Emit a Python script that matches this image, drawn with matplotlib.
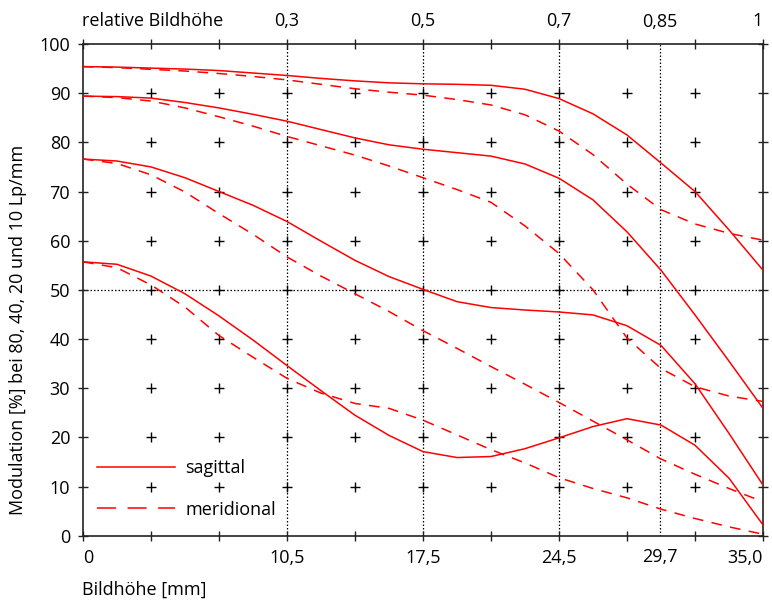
import matplotlib
matplotlib.use("Agg")
import matplotlib.pyplot as plt
from matplotlib.lines import Line2D
import numpy as np

plt.rcParams['font.family'] = ['Open Sans', 'DejaVu Sans']
plt.rcParams['font.size'] = 13

# Bildhöhe [mm]
h = [0, 1.75, 3.5, 5.25, 7, 8.75, 10.5, 12.25, 14, 15.75, 17.5,
     19.25, 21, 22.75, 24.5, 26.25, 28, 29.75, 31.5, 33.25, 35]

# 10 Lp/mm
s10 = [95.4, 95.3, 95.1, 94.9, 94.6, 94.1, 93.6, 93.0, 92.5, 92.1, 91.9,
       91.8, 91.6, 90.8, 88.9, 85.8, 81.5, 75.8, 70.0, 62.2, 54.0]
m10 = [95.4, 95.2, 94.85, 94.5, 94.0, 93.4, 92.7, 91.8, 90.9, 90.2, 89.6,
       88.7, 87.6, 85.6, 82.3, 77.5, 71.5, 66.3, 63.4, 61.5, 60.1]
# 20 Lp/mm
s20 = [89.4, 89.3, 89.0, 88.1, 87.0, 85.7, 84.3, 82.6, 80.9, 79.5, 78.6,
       77.9, 77.2, 75.6, 72.7, 68.3, 61.8, 54.0, 44.9, 35.5, 25.9]
m20 = [89.4, 89.1, 88.4, 87.0, 85.2, 83.3, 81.2, 79.3, 77.4, 75.2, 72.8,
       70.4, 67.8, 63.0, 57.4, 50.0, 40.2, 34.0, 30.3, 28.4, 27.3]
# 40 Lp/mm
s40 = [76.6, 76.2, 75.0, 72.8, 70.0, 67.2, 63.9, 59.9, 56.0, 52.7, 50.1,
       47.6, 46.4, 45.9, 45.5, 44.9, 42.7, 38.7, 30.9, 20.8, 10.3]
m40 = [76.6, 75.7, 73.4, 69.9, 65.5, 61.3, 56.7, 52.8, 49.2, 45.6, 41.7,
       38.1, 34.4, 30.8, 27.1, 23.3, 19.5, 15.6, 12.5, 9.6, 6.9]
# 80 Lp/mm
s80 = [55.7, 55.2, 52.8, 49.2, 44.7, 39.8, 34.6, 29.5, 24.5, 20.4, 17.1,
       15.9, 16.1, 17.7, 19.9, 22.2, 23.8, 22.5, 18.4, 11.7, 2.2]
m80 = [55.7, 54.5, 51.0, 46.5, 40.7, 36.3, 32.0, 29.0, 26.9, 25.9, 23.5,
       20.5, 17.5, 14.8, 11.8, 9.6, 7.7, 5.4, 3.5, 1.8, 0.3]

sag = [s10, s20, s40, s80]
mer = [m10, m20, m40, m80]

grid_x = [3.5, 7, 10.5, 14, 17.5, 21, 24.5, 28, 31.5]
grid_y = [10, 20, 30, 40, 50, 60, 70, 80, 90]
vlines = [10.5, 17.5, 24.5, 29.7]

bottom_ticks = [0, 3.5, 7, 10.5, 14, 17.5, 21, 24.5, 28, 31.5, 35]
bottom_labels = ['0', '', '', '10,5', '', '17,5', '', '24,5', '', '', '35,0']
top_labels = ['', '', '', '0,3', '', '0,5', '', '0,7', '', '', '1']

fig = plt.figure(figsize=(7.72, 6.05), dpi=100)
ax = fig.add_axes([83/772, 1-535.7/605, 680/772, 491.7/605])
ax.set_xlim(0, 35)
ax.set_ylim(0, 100)

# gitter
for v in vlines:
    ax.axvline(v, color='black', lw=0.9, ls=(0, (1.2, 1.6)), zorder=1)
ax.axhline(50, color='black', lw=0.9, ls=(0, (1.2, 1.6)), zorder=1)
gx, gy = np.meshgrid(grid_x, grid_y)
ax.plot(gx.ravel(), gy.ravel(), ls='none', marker='+', ms=7, mew=1.0,
        color='black', zorder=2)

# kurven
for i in range(4):
    ax.plot(h, sag[i], color='#ff0000', lw=1.1, zorder=3)
    ax.plot(h, mer[i], color='#ff0000', lw=1.1, dashes=(7, 5.5), zorder=3)

for s in ax.spines.values():
    s.set_linewidth(1.2)
    s.set_color('#222222')

ax.set_xticks(bottom_ticks)
ax.set_xticklabels(bottom_labels)
ax.set_xticks([29.7], ['29,7'], minor=True)
ax.set_yticks(range(0, 101, 10))
ax.tick_params(axis='both', which='major', direction='inout', length=6.5,
               width=1.0, right=True, color='#222222')
ax.tick_params(axis='x', which='major', pad=6)
ax.tick_params(axis='y', which='major', pad=6)
ax.tick_params(axis='x', which='minor', length=0, pad=9.2)
lbl = ax.get_xticklabels()
lbl[0].set_ha('left')
lbl[-1].set_ha('right')

ax2 = ax.twiny()
ax2.set_xlim(0, 35)
ax2.set_xticks(bottom_ticks)
ax2.set_xticklabels(top_labels)
ax2.set_xticks([29.7], ['0,85'], minor=True)
ax2.tick_params(axis='x', which='major', direction='inout', length=6.5,
                width=1.0, pad=6.5, color='#222222')
ax2.tick_params(axis='x', which='minor', length=0, pad=9.7)
ax2.get_xticklabels()[-1].set_ha('right')
for s in ax2.spines.values():
    s.set_visible(False)

ax.set_ylabel('Modulation [%] bei 80, 40, 20 und 10 Lp/mm')
ax.yaxis.set_label_coords(-0.083, 0.418)
fig.text(82/772, 1-21/605, 'relative Bildhöhe', ha='left', va='center')
fig.text(82/772, 1-590/605, 'Bildhöhe [mm]', ha='left', va='center')

handles = [Line2D([], [], color='#ff0000', lw=1.1),
           Line2D([], [], color='#ff0000', lw=1.1, dashes=(12.5, 7.5))]
ax.legend(handles, ['sagittal', 'meridional'], loc='lower left',
          bbox_to_anchor=(0.01, 0.02), frameon=False,
          handlelength=4.3, handletextpad=0.6, labelspacing=1.3,
          borderaxespad=0)

fig.savefig('out.png', dpi=100)
